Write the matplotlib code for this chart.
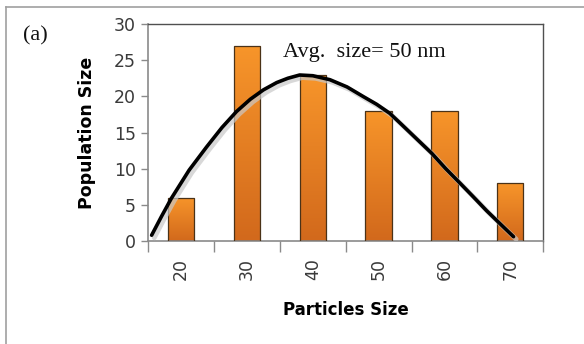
import matplotlib
matplotlib.use("Agg")
from matplotlib import pyplot as plt
from matplotlib.lines import Line2D
import numpy as np

# particle size classes and their counts
sizes = ['20', '30', '40', '50', '60', '70']
counts = [6, 27, 23, 18, 18, 8]

# trend curve (x in category units, 0 = first bar)
curve_x = [-0.45, -0.30, -0.15, 0.12, 0.385, 0.62, 0.84, 1.05, 1.25, 1.45,
           1.62, 1.80, 2.00, 2.26, 2.52, 2.77, 2.97, 3.17, 3.35, 3.58,
           3.81, 4.02, 4.24, 4.44, 4.64, 4.85, 5.05]
curve_y = [0.8, 3.4, 5.9, 9.8, 13.0, 15.7, 17.9, 19.6, 20.9, 21.9,
           22.5, 22.95, 22.85, 22.3, 21.3, 19.95, 18.9, 17.65, 16.1, 14.1,
           12.1, 10.0, 7.97, 6.1, 4.2, 2.35, 0.6]

fig = plt.figure(figsize=(5.84, 3.44), dpi=100)
ax = fig.add_axes([0.254, 0.2994, 0.676, 0.6308])

pos = np.arange(len(sizes))
bars = ax.bar(pos, counts, width=0.4, color='#F08A24', edgecolor='#4a3218',
              linewidth=0.9, zorder=2)

# vertical orange gradient inside each bar
grad = np.linspace(0, 1, 100).reshape(-1, 1)
cmap = matplotlib.colors.LinearSegmentedColormap.from_list(
    'org', ['#D2691C', '#F7952A'])
for b in bars:
    x0, w, h = b.get_x(), b.get_width(), b.get_height()
    im = ax.imshow(grad, extent=[x0, x0 + w, 0, h], origin='lower',
                   cmap=cmap, aspect='auto', zorder=2.5)
    im.set_clip_path(b)
    b.set_facecolor('none')
    b.set_zorder(3)

# soft shadow under the curve
ax.plot(np.array(curve_x) + 0.04, np.array(curve_y) - 0.35, color='#c8c8c8',
        lw=3.5, solid_capstyle='round', zorder=3.5, alpha=0.7)
ax.plot(curve_x, curve_y, color='black', lw=2.6, solid_capstyle='round',
        solid_joinstyle='round', zorder=4)

ax.set_xlim(-0.5, len(sizes) - 0.5)
ax.set_ylim(0, 30)
ax.set_yticks(range(0, 31, 5))
ax.set_xticks(pos)
ax.set_xticklabels(sizes, rotation=90)
ax.set_xticks(np.arange(-0.5, len(sizes)), minor=True)
ax.tick_params(axis='x', which='major', length=0, pad=12, labelsize=12.5,
               labelcolor='#3a3a3a')
ax.tick_params(axis='x', which='minor', length=8, width=1, color='#8a8a8a')
ax.tick_params(axis='y', length=5, width=1, color='#8a8a8a', pad=4,
               labelsize=12.5, labelcolor='#3a3a3a')

for s in ['left', 'bottom']:
    ax.spines[s].set_color('#8a8a8a')
    ax.spines[s].set_linewidth(1.2)
for s in ['top', 'right']:
    ax.spines[s].set_color('#505050')
    ax.spines[s].set_linewidth(1.0)

ax.set_xlabel('Particles Size', fontsize=12, fontweight='bold', labelpad=15)
ax.set_ylabel('Population Size', fontsize=12.5, fontweight='bold', labelpad=13)

ax.text(1.546, 25.4, 'Avg.  size= 50 nm', family='Liberation Serif',
        fontsize=16, color='#111111', va='baseline', zorder=5)
fig.text(23 / 584, 1 - 40 / 344, '(a)', family='Liberation Serif',
         fontsize=16, color='#111111', va='baseline')

# outer frame lines (top and left)
fig.add_artist(Line2D([6 / 584, 1], [1 - 7 / 344, 1 - 7 / 344],
                      color='#a0a0a0', lw=1.2, transform=fig.transFigure))
fig.add_artist(Line2D([6 / 584, 6 / 584], [0, 1 - 7 / 344],
                      color='#a0a0a0', lw=1.2, transform=fig.transFigure))

fig.savefig('out.png', dpi=100)
